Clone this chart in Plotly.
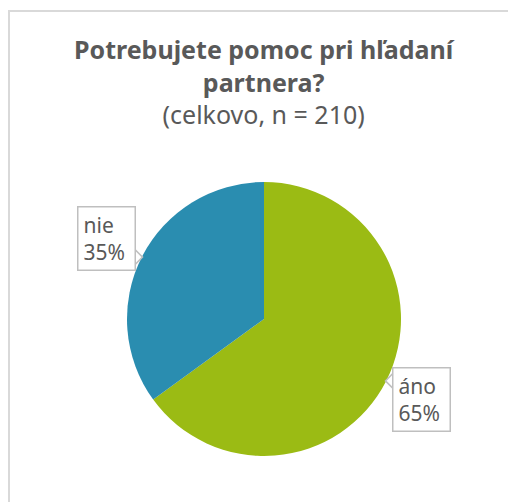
import math
import plotly.graph_objects as go

labels = ["áno", "nie"]
values = [65, 35]
colors = ["#9BBB14", "#2A8DB0"]
title_main = "Potrebujete pomoc pri hľadaní<br>partnera?"
title_sub = "(celkovo, n = 210)"

W, H = 516, 502
OFF = 8  # page body margin shifts the figure
cx, cy, r = 264 - OFF, 319 - OFF, 137  # pie center / radius in pixels
FONT = "Noto Sans"
GRAY = "#595959"
BORDER = "#BFBFBF"


def px(x):
    return x / W


def py(y):
    return 1 - y / H


fig = go.Figure(go.Pie(
    labels=labels, values=values, sort=False, direction="clockwise", rotation=0,
    marker=dict(colors=colors, line=dict(width=0)),
    textinfo="none", hoverinfo="label+percent", showlegend=False,
    domain=dict(x=[px(cx - r), px(cx + r)], y=[py(cy + r), py(cy - r)]),
))

total = sum(values)
cum = 0
half_w = 29
for lab, v in zip(labels, values):
    mid = (cum + v / 2) / total * 2 * math.pi
    cum += v
    lx = cx + 1.29 * r * math.sin(mid)
    ly = cy - 1.29 * r * math.cos(mid)
    # callout pointer toward pie center
    sx = 1 if cx > lx else -1
    slope = (cy - ly) / (cx - lx)
    ex = lx + sx * (half_w - 1)
    tx = lx + sx * (half_w + 7)
    ty = ly + slope * (tx - lx)
    fig.add_shape(type="path", xref="paper", yref="paper",
                  path=f"M {px(ex)},{py(ty - 8)} L {px(tx)},{py(ty)} L {px(ex)},{py(ty + 8)} Z",
                  fillcolor="white", line=dict(color=BORDER, width=1.5), layer="above")
    fig.add_annotation(
        x=px(lx), y=py(ly), xref="paper", yref="paper", xanchor="center", yanchor="middle",
        text=f"{lab}<br>{round(v / total * 100)}%", showarrow=False,
        font=dict(family=FONT, size=21, color=GRAY),
        bgcolor="white", bordercolor=BORDER, borderwidth=1.5, borderpad=5,
        align="left", width=46, height=52,
    )

fig.add_annotation(
    x=px(264 - OFF), y=py(82 - OFF), xref="paper", yref="paper", yanchor="middle",
    text=f"<b>{title_main}</b><br>{title_sub}", showarrow=False,
    font=dict(family=FONT, size=25, color=GRAY),
)

fig.add_shape(type="rect", xref="paper", yref="paper",
              x0=px(8 - OFF + 1), x1=1.05, y0=-0.05, y1=py(11 - OFF),
              line=dict(color="#D9D9D9", width=2), fillcolor="rgba(0,0,0,0)", layer="below")

fig.update_layout(
    width=W, height=H, margin=dict(l=0, r=0, t=0, b=0),
    paper_bgcolor="white", plot_bgcolor="white",
)
fig.write_html("out.html")
